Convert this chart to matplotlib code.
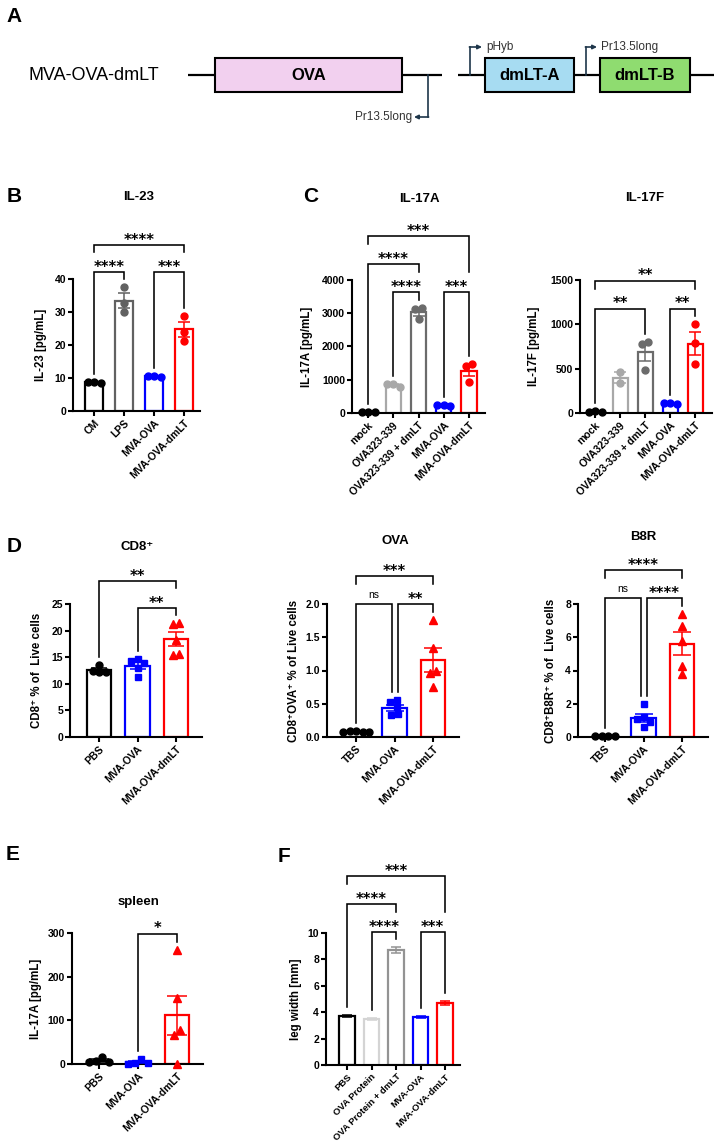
import numpy as np
import matplotlib
matplotlib.use("Agg")
import matplotlib.pyplot as plt
from matplotlib.patches import Rectangle

W, H = 714, 1147

# ---------------- data ----------------
IL23_GROUPS = ["CM", "LPS", "MVA-OVA", "MVA-OVA-dmLT"]
IL23_VALUES = [[8.6, 8.8, 8.7], [37.5, 32.8, 30.0], [10.5, 10.6, 10.4], [28.8, 24.0, 21.3]]

IL17_GROUPS = ["mock", "OVA323-339", "OVA323-339 + dmLT", "MVA-OVA", "MVA-OVA-dmLT"]
IL17A_VALUES = [[30, 25, 35], [880, 870, 770], [3150, 3120, 2830], [220, 250, 230], [1480, 1400, 930]]
IL17F_VALUES = [[15, 12, 18], [460, 340], [800, 775, 485], [110, 115, 105], [1000, 790, 550]]

CD8_GROUPS = ["PBS", "MVA-OVA", "MVA-OVA-dmLT"]
TET_GROUPS = ["TBS", "MVA-OVA", "MVA-OVA-dmLT"]
CD8_VALUES = [[13.5, 12.3, 12.2, 12.4], [14.6, 14.3, 14.0, 12.9, 11.2], [21.5, 21.2, 18.3, 15.6, 15.4]]
OVA_TET_VALUES = [[0.07, 0.08, 0.09, 0.08, 0.09], [0.55, 0.52, 0.45, 0.34, 0.33], [1.76, 1.34, 0.99, 0.96, 0.75]]
B8R_VALUES = [[0.05, 0.04, 0.06, 0.05], [2.0, 1.2, 1.1, 0.9, 0.6], [7.4, 6.7, 5.8, 4.3, 3.8]]

SPLEEN_GROUPS = ["PBS", "MVA-OVA", "MVA-OVA-dmLT"]
SPLEEN_VALUES = [[17, 6, 5, 4], [11, 2, 2, 1], [262, 152, 78, 66, 0]]

LEG_GROUPS = ["PBS", "OVA Protein", "OVA Protein + dmLT", "MVA-OVA", "MVA-OVA-dmLT"]
LEG_MEANS = [3.72, 3.50, 8.70, 3.62, 4.68]
LEG_SEM = [0.10, 0.08, 0.25, 0.06, 0.15]

# significance brackets: (group i, group j, label, bracket height in data units)
IL23_STATS = [(0, 1, "****", 42), (2, 3, "***", 42), (0, 3, "****", 50.3)]
IL17A_STATS = [(1, 2, "****", 3640), (3, 4, "***", 3640), (0, 2, "****", 4480), (0, 4, "***", 5320)]
IL17F_STATS = [(0, 2, "**", 1175), (3, 4, "**", 1175), (0, 4, "**", 1490)]
CD8_STATS = [(1, 2, "**", 24.2), (0, 2, "**", 29.3)]
OVA_STATS = [(0, 1, "ns", 2.0), (1, 2, "**", 2.0), (0, 2, "***", 2.42)]
B8R_STATS = [(0, 1, "ns", 8.36), (1, 2, "****", 8.36), (0, 2, "****", 10.05)]
SPLEEN_STATS = [(1, 2, "*", 298)]
LEG_STATS = [(1, 2, "****", 10.08), (3, 4, "***", 10.08), (0, 2, "****", 12.2), (0, 4, "***", 14.3)]

# ---------------- styling ----------------
BLUE, RED = "#0000ff", "#ff0000"
C_B = ["black", "#616161", BLUE, RED]
C_C = ["black", "#a8a8a8", "#6b6b6b", BLUE, RED]
C_D = ["black", BLUE, RED]
C_F = ["black", "#d4d4d4", "#939393", BLUE, RED]
M_D = ["o", "s", "^"]

plt.rcParams["font.family"] = ["Liberation Sans", "DejaVu Sans"]
plt.rcParams["font.weight"] = "bold"
plt.rcParams["axes.labelweight"] = "bold"

fig = plt.figure(figsize=(W / 100, H / 100), dpi=100)
ax0 = fig.add_axes([0, 0, 1, 1])
ax0.set_xlim(0, W)
ax0.set_ylim(H, 0)
ax0.axis("off")


def swarm_offsets(vals, ppu, d):
    """Horizontal offsets (px) so overlapping dots sit side by side."""
    vals = np.asarray(vals, float)
    order = np.argsort(-vals, kind="stable")
    pos = {}
    for k in order:
        y = vals[k] * ppu
        for c in (0, -1, 1, -2, 2, -3, 3):
            x = c * d
            if all((x - px) ** 2 + (y - py) ** 2 >= (0.95 * d) ** 2 for px, py in pos.values()):
                break
        pos[k] = (x, y)
    # recentre each vertical cluster
    ys = sorted(range(len(vals)), key=lambda k: pos[k][1])
    clusters, cur = [], [ys[0]]
    for k in ys[1:]:
        if pos[k][1] - pos[cur[-1]][1] < d:
            cur.append(k)
        else:
            clusters.append(cur)
            cur = [k]
    clusters.append(cur)
    offs = np.zeros(len(vals))
    for c in clusters:
        m = np.mean([pos[k][0] for k in c])
        for k in c:
            offs[k] = pos[k][0] - m
    return offs


def panel(geom, groups, colors, ymax, yticks, ylabel, ylabel_px, stats,
          values=None, means=None, sems=None, markers=None, bar_w=0.6, cap=4.5,
          ticklabels=None, xlabelsize=7.5):
    left, right, y0, ytop, first, sp = geom
    ax = fig.add_axes([left / W, 1 - y0 / H, (right - left) / W, (y0 - ytop) / H])
    ppu = (y0 - ytop) / ymax
    x = np.arange(len(groups))
    if values is not None:
        means = [np.mean(v) for v in values]
        sems = [np.std(v, ddof=1) / np.sqrt(len(v)) for v in values]
    tops = [m + s for m, s in zip(means, sems)]
    for k in x:
        c = colors[k]
        ax.bar(k, means[k], bar_w, facecolor="white", edgecolor=c, linewidth=1.6, zorder=2)
        ax.errorbar(k, means[k], yerr=sems[k], fmt="none", ecolor=c, elinewidth=1.1,
                    capsize=cap, capthick=1.1, zorder=3)
        if values is not None:
            v = np.asarray(values[k], float)
            offs = swarm_offsets(v, ppu, 6.5) / sp
            mk = markers[k] if markers else "o"
            ms = 5.4 if mk == "^" else (4.8 if mk == "s" else 5.0)
            ax.plot(k + offs, v, ls="none", marker=mk, ms=ms, color=c, mec=c,
                    zorder=4, clip_on=False)
            tops[k] = max(tops[k], v.max())

    ax.set_xlim((left - first) / sp, (right - first) / sp)
    ax.set_ylim(0, ymax)
    ax.set_yticks(yticks)
    if ticklabels is not None:
        ax.set_yticklabels(ticklabels)
    ax.set_xticks(x)
    ax.set_xticklabels(groups, rotation=45, ha="right", rotation_mode="anchor",
                       fontsize=xlabelsize)
    for s in ("top", "right"):
        ax.spines[s].set_visible(False)
    for s in ("left", "bottom"):
        ax.spines[s].set_linewidth(1.5)
    ax.tick_params(direction="out", length=3.5, width=1.5, pad=1.5)
    ax.tick_params(axis="y", labelsize=7.5)
    ax.set_ylabel(ylabel, fontsize=8.3)
    ax.yaxis.set_label_coords((ylabel_px - left) / (right - left), 0.5)

    # significance brackets
    gap, above, shift = 8 / ppu, 20 / ppu, 3 / sp
    for i, j, lab, lev in stats:
        legs = []
        for k in (i, j):
            b = tops[k] + gap
            for i2, j2, _, lev2 in stats:
                if lev2 < lev and i2 <= k <= j2:
                    b = max(b, lev2 + above)
            legs.append(b)
        xi, xj = float(i), float(j)
        for i2, j2, _, lev2 in stats:
            if lev2 == lev and (i2, j2) != (i, j):
                if i2 == j:
                    xj -= shift
                if j2 == i:
                    xi += shift
        ax.plot([xi, xi, xj, xj], [legs[0], lev, lev, legs[1]], color="black", lw=1.15,
                clip_on=False, zorder=5, solid_joinstyle="miter")
        if lab == "ns":
            ax.annotate(lab, xy=((xi + xj) / 2, lev), xytext=(0, 4), textcoords="offset points",
                        ha="center", va="baseline", fontsize=7.5, fontweight="normal",
                        annotation_clip=False)
        else:
            ax.annotate(lab, xy=((xi + xj) / 2, lev), xytext=(0, 0.3), textcoords="offset points",
                        ha="center", va="baseline", fontsize=10.5, fontweight="bold",
                        family="DejaVu Sans", annotation_clip=False)
    return ax


# ---------------- panel A: construct schematic ----------------
ax0.text(14, 17, "A", fontsize=15, fontweight="bold", ha="center", va="center")
ax0.text(28, 75, "MVA-OVA-dmLT", fontsize=13, fontweight="normal", ha="left", va="center")
ax0.plot([188, 442], [75, 75], color="black", lw=1.6, solid_capstyle="butt")
ax0.plot([458, 714], [75, 75], color="black", lw=1.6, solid_capstyle="butt")
for x1, x2, fc, lab in [(215, 402, "#f2d0ef", "OVA"), (485, 574, "#a7dcf2", "dmLT-A"),
                        (600, 690, "#8fdc70", "dmLT-B")]:
    ax0.add_patch(Rectangle((x1, 58), x2 - x1, 34, facecolor=fc, edgecolor="black", lw=1.5, zorder=3))
    ax0.text((x1 + x2) / 2, 75, lab, fontsize=12, fontweight="bold", ha="center", va="center", zorder=4)

PROM = "#1e364a"
for xs, ye, xa, txt, side in [(428, 117, 414, "Pr13.5long", "left"),
                              (470, 47, 482, "pHyb", "right"),
                              (586, 47, 597, "Pr13.5long", "right")]:
    ax0.plot([xs, xs], [75, ye], color=PROM, lw=1.2)
    ax0.annotate("", xy=(xa, ye), xytext=(xs - 0.6 if side == "right" else xs + 0.6, ye),
                 arrowprops=dict(arrowstyle="-|>", color=PROM, lw=1.2, mutation_scale=6,
                                 shrinkA=0, shrinkB=0))
    if side == "left":
        ax0.text(xa - 2, ye, txt, fontsize=8.5, fontweight="normal", color="#333333",
                 ha="right", va="center")
    else:
        ax0.text(xa + 4, ye, txt, fontsize=8.5, fontweight="normal", color="#333333",
                 ha="left", va="center")

# ---------------- panel letters and titles ----------------
for lx, ly, l in [(14, 197, "B"), (311, 197, "C"), (14, 547, "D"), (13, 855, "E"), (284, 857, "F")]:
    ax0.text(lx, ly, l, fontsize=15, fontweight="bold", ha="center", va="center")
for tx, ty, t in [(139, 197, "IL-23"), (419, 199, "IL-17A"), (645, 198, "IL-17F"),
                  (137, 547, "CD8\u207a"), (395, 541, "OVA"), (643, 537, "B8R"),
                  (138, 902, "spleen")]:
    ax0.text(tx, ty, t, fontsize=9.5, fontweight="bold", ha="center", va="center")

# ---------------- panels B-F ----------------
panel((73, 200, 411, 279, 94, 30), IL23_GROUPS, C_B, 40, [0, 10, 20, 30, 40],
      "IL-23 [pg/mL]", 47, IL23_STATS, values=IL23_VALUES, cap=4)

panel((352, 485, 413, 280, 368, 25.25), IL17_GROUPS, C_C, 4000, [0, 1000, 2000, 3000, 4000],
      "IL-17A [pg/mL]", 313, IL17A_STATS, values=IL17A_VALUES, cap=4.5)

panel((580, 712, 413, 280, 595, 25), IL17_GROUPS, C_C, 1500, [0, 500, 1000, 1500],
      "IL-17F [pg/mL]", 540, IL17F_STATS, values=IL17F_VALUES, cap=4.5)

panel((70, 202, 737, 604, 99, 38.5), CD8_GROUPS, C_D, 25, [0, 5, 10, 15, 20, 25],
      "CD8\u207a % of  Live cells", 43, CD8_STATS, values=CD8_VALUES, markers=M_D,
      bar_w=0.63, cap=6)

panel((327, 459, 737, 604, 356, 38.5), TET_GROUPS, C_D, 2.0, [0, 0.5, 1.0, 1.5, 2.0],
      "CD8\u207aOVA\u207a % of Live cells", 300, OVA_STATS, values=OVA_TET_VALUES, markers=M_D,
      bar_w=0.63, cap=6.5, ticklabels=["0.0", "0.5", "1.0", "1.5", "2.0"])

panel((578, 708, 737, 604, 605, 38.5), TET_GROUPS, C_D, 8, [0, 2, 4, 6, 8],
      "CD8\u207aB8R\u207a % of  Live cells", 557, B8R_STATS, values=B8R_VALUES, markers=M_D,
      bar_w=0.63, cap=6.5)

panel((72, 203, 1064, 933, 99, 39), SPLEEN_GROUPS, C_D, 300, [0, 100, 200, 300],
      "IL-17A [pg/mL]", 42, SPLEEN_STATS, values=SPLEEN_VALUES, markers=M_D,
      bar_w=0.64, cap=7)

panel((326, 460, 1065, 933, 347, 24.5), LEG_GROUPS, C_F, 10, [0, 2, 4, 6, 8, 10],
      "leg width [mm]", 302, LEG_STATS, means=LEG_MEANS, sems=LEG_SEM, bar_w=0.65, cap=3.5,
      xlabelsize=6.8)

fig.savefig("out.png", dpi=100, facecolor="white")
